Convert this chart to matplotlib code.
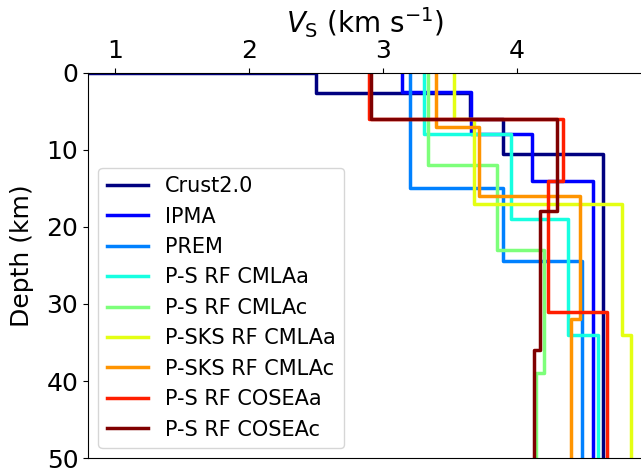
import numpy as np
import matplotlib
matplotlib.use("Agg")
import matplotlib.pyplot as plt

labels = ["Crust2.0", "IPMA", "PREM", "P-S RF CMLAa", "P-S RF CMLAc",
          "P-SKS RF CMLAa", "P-SKS RF CMLAc", "P-S RF COSEAa", "P-S RF COSEAc"]

# layer top depths (km) and shear velocities (km/s)
crust2_tops = [0, 0, 2.7, 6, 10.6]
crust2_vs = [0.0, 2.5, 3.65, 3.9, 4.645]
ipma_tops = [0, 2.5, 8, 14]
ipma_vs = [3.14, 3.66, 4.11, 4.567]
prem_tops = [0, 15, 24.4]
prem_vs = [3.2, 3.9, 4.49]
ps_cmlaa_tops = [0, 8, 19, 34]
ps_cmlaa_vs = [3.31, 3.96, 4.38, 4.604]
ps_cmlac_tops = [0, 12, 23, 39]
ps_cmlac_vs = [3.335, 3.85, 4.20, 4.14]
psks_cmlaa_tops = [0, 6, 17, 34]
psks_cmlaa_vs = [3.535, 3.68, 4.785, 4.855]
psks_cmlac_tops = [0, 7, 16, 32]
psks_cmlac_vs = [3.40, 3.72, 4.468, 4.406]
ps_coseaa_tops = [0, 6, 14, 31]
ps_coseaa_vs = [2.895, 4.343, 4.23, 4.674]
ps_coseac_tops = [0, 6, 18, 36]
ps_coseac_vs = [2.915, 4.30, 4.175, 4.128]

models = [(crust2_tops, crust2_vs), (ipma_tops, ipma_vs), (prem_tops, prem_vs),
          (ps_cmlaa_tops, ps_cmlaa_vs), (ps_cmlac_tops, ps_cmlac_vs),
          (psks_cmlaa_tops, psks_cmlaa_vs), (psks_cmlac_tops, psks_cmlac_vs),
          (ps_coseaa_tops, ps_coseaa_vs), (ps_coseac_tops, ps_coseac_vs)]
max_depth = 60

colors = plt.cm.jet(np.linspace(0, 1, len(models)))

fig = plt.figure(figsize=(6.41, 4.76), dpi=100)
ax_w = 554.0
ax = fig.add_axes([88/641, 17.7/476, ax_w/641, 385.8/476])

for (tops, vs), lab, c in zip(models, labels, colors):
    bottoms = list(tops[1:]) + [max_depth]
    xs, ys = [], []
    for t, b, v in zip(tops, bottoms, vs):
        xs += [v, v]
        ys += [t, b]
    ax.plot(xs, ys, color=c, lw=2.5, label=lab)

ax.set_xlim(0.8, 0.8 + ax_w / 134.0)
ax.set_ylim(50, 0)
ax.xaxis.tick_top()
ax.xaxis.set_label_position('top')
ax.set_xticks([1, 2, 3, 4])
ax.set_yticks([0, 10, 20, 30, 40, 50])
ax.tick_params(labelsize=18)
ax.set_xlabel(r'$V_{\rm S}$ (km s$^{-1}$)', fontsize=20)
ax.set_ylabel('Depth (km)', fontsize=18)
ax.yaxis.set_label_coords((34 - 88) / ax_w, 0.524)
ax.legend(loc='lower left', fontsize=15)

fig.savefig('out.png', dpi=100)
